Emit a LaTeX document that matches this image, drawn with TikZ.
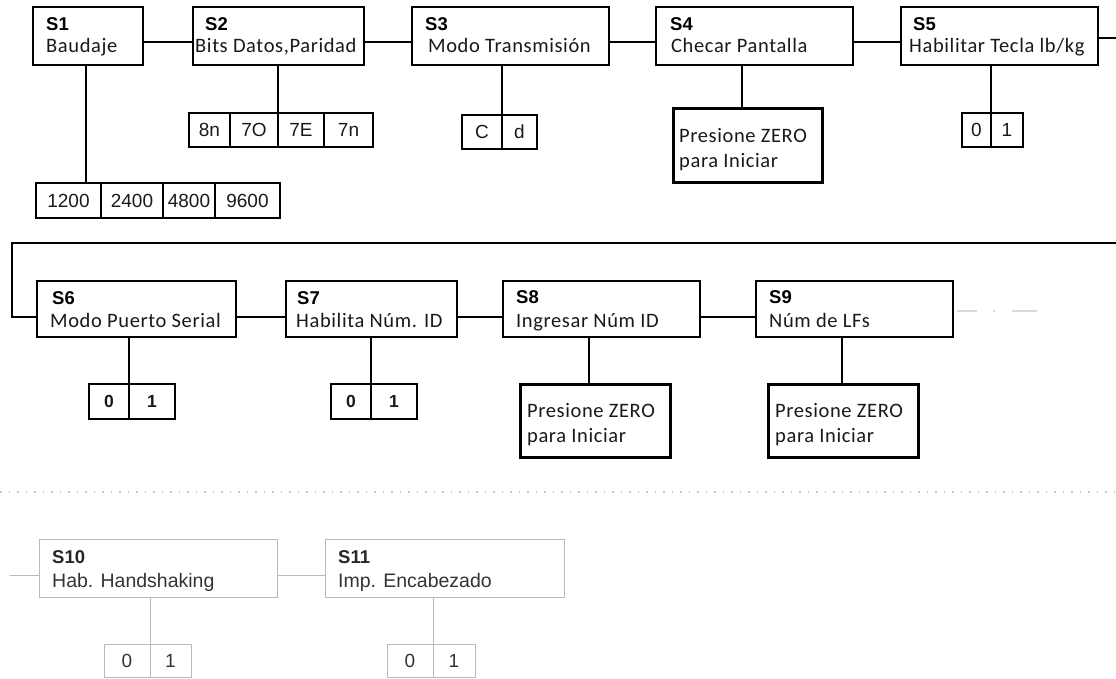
\documentclass[tikz,border=0pt]{standalone}
\usepackage{fontspec}
\setmainfont{Carlito}
\newfontfamily\calib[LetterSpace=3]{Carlito}
\newfontfamily\arial{Liberation Sans}
\usetikzlibrary{calc,fit}
\tikzset{
  sbox/.style={draw=black, line width=1.6pt, inner sep=0pt, outer sep=0pt},
  pbox/.style={draw=black, line width=3pt, inner sep=0pt, outer sep=0pt},
  gbox/.style={draw=gray!55, line width=1pt, inner sep=0pt, outer sep=0pt},
  obox/.style={sbox, line width=1.4pt},
  otxt/.style={inner sep=0pt, anchor=center, font=\arial\fontsize{19}{21}\selectfont, text=black!90},
  obtxt/.style={otxt, font=\arial\bfseries\fontsize{17.5}{20}\selectfont},
  gotxt/.style={otxt, text=black!80},
  lab/.style={anchor=base west, inner sep=0pt, font=\arial\bfseries\fontsize{18.5}{20}\selectfont},
  txt/.style={anchor=base west, inner sep=0pt, font=\calib\fontsize{20.5}{24}\selectfont, text=black!90},
  glab/.style={lab, text=black!85},
  gtxt/.style={anchor=base west, inner sep=0pt, font=\arial\fontsize{19.5}{22}\selectfont, text=black!80},
  conn/.style={draw=black, line width=1.7pt},
  gconn/.style={draw=gray!55, line width=1pt},
  faint/.style={draw=gray!30, line width=1.2pt},
  dotline/.style={draw=gray!45, line width=1.2pt, dash pattern=on 1.5pt off 7pt},
}
\begin{document}
\begin{tikzpicture}[x=1pt,y=-1pt]
\useasboundingbox (0,0) rectangle (1116,679);

% ---------------- top row ----------------
\node[sbox, fit={(33,7) (143,65)}] (s1) {};
\node[sbox, fit={(193,7) (364,65)}] (s2) {};
\node[sbox, fit={(412,7) (609,65)}] (s3) {};
\node[sbox, fit={(656,7) (853,65)}] (s4) {};
\node[sbox, fit={(901,7) (1098,65)}] (s5) {};

\node[lab] (s1l) at ($(s1.north west)+(13,24)$) {S1};
\node[txt] (s1t) at ($(s1.north west)+(13,46)$) {Baudaje};
\node[lab] (s2l) at ($(s2.north west)+(12,24)$) {S2};
\node[txt] (s2t) at ($(s2.north west)+(2,46)$) {Bits Datos,Paridad};
\node[lab] (s3l) at ($(s3.north west)+(13,24)$) {S3};
\node[txt] (s3t) at ($(s3.north west)+(16,46)$) {Modo Transmisión};
\node[lab] (s4l) at ($(s4.north west)+(14,24)$) {S4};
\node[txt] (s4t) at ($(s4.north west)+(15,46)$) {Checar Pantalla};
\node[lab] (s5l) at ($(s5.north west)+(12,24)$) {S5};
\node[txt] (s5t) at ($(s5.north west)+(8,46)$) {Habilitar Tecla lb/kg};

\draw[conn] ([yshift=-6pt]s1.east) -- ([yshift=-6pt]s2.west);
\draw[conn] ([yshift=-6pt]s2.east) -- ([yshift=-6pt]s3.west);
\draw[conn] ([yshift=-6pt]s3.east) -- ([yshift=-6pt]s4.west);
\draw[conn] ([yshift=-6pt]s4.east) -- ([yshift=-6pt]s5.west);
\coordinate (e5) at (1116,38);
\draw[conn] ([yshift=-2pt]s5.east) -- (e5);

% S1 options
\node[obox, fit={(36,183) (101,218)}] (b1) {};
\node[obox, fit={(101,183) (163,218)}] (b2) {};
\node[obox, fit={(163,183) (215,218)}] (b3) {};
\node[obox, fit={(215,183) (280,218)}] (b4) {};
\node[otxt] at (b1.center) {1200};
\node[otxt] at (b2.center) {2400};
\node[otxt] at (b3.center) {4800};
\node[otxt] at (b4.center) {9600};
\draw[conn] ([xshift=53pt]s1.south west) -- ([xshift=50pt]b1.north west);

% S2 options
\node[obox, fit={(189,113) (230,147)}] (c1) {};
\node[obox, fit={(230,113) (278,147)}] (c2) {};
\node[obox, fit={(278,113) (324,147)}] (c3) {};
\node[obox, fit={(324,113) (373,147)}] (c4) {};
\node[otxt] at (c1.center) {8n};
\node[otxt] at (c2.center) {7O};
\node[otxt] at (c3.center) {7E};
\node[otxt] at (c4.center) {7n};
\draw[conn] ([xshift=85pt]s2.south west) -- (c2.north east);

% S3 options
\node[obox, fit={(462,115) (502,149)}] (d1) {};
\node[obox, fit={(502,115) (537,149)}] (d2) {};
\node[otxt] at (d1.center) {C};
\node[otxt] at (d2.center) {d};
\draw[conn] ([xshift=90pt]s3.south west) -- (d1.north east);

% S4
\node[pbox, fit={(673,109) (822,183)}] (p4) {};
\node[txt] (p4a) at ($(p4.north west)+(6,34)$) {Presione ZERO};
\node[txt] (p4b) at ($(p4.north west)+(6,59)$) {para Iniciar};
\draw[conn] ([xshift=86pt]s4.south west) -- ([xshift=69pt]p4.north west);

% S5 options
\node[obox, fit={(962,113) (991,147)}] (e1) {};
\node[obox, fit={(991,113) (1023,147)}] (e2) {};
\node[otxt] at (e1.center) {0};
\node[otxt] at (e2.center) {1};
\draw[conn] ([xshift=90pt]s5.south west) -- (e1.north east);

% ---------------- middle row ----------------
\node[sbox, fit={(37,281) (236,337)}] (s6) {};
\node[sbox, fit={(286,281) (457,337)}] (s7) {};
\node[sbox, fit={(503,281) (700,337)}] (s8) {};
\node[sbox, fit={(756,281) (953,337)}] (s9) {};

\node[lab] (s6l) at ($(s6.north west)+(15,23)$) {S6};
\node[txt] (s6t) at ($(s6.north west)+(13,46)$) {Modo Puerto Serial};
\node[lab] (s7l) at ($(s7.north west)+(11,23)$) {S7};
\node[txt] (s7t) at ($(s7.north west)+(10,46)$) {Habilita Núm. ID};
\node[lab] (s8l) at ($(s8.north west)+(13,22)$) {S8};
\node[txt] (s8t) at ($(s8.north west)+(13,46)$) {Ingresar Núm ID};
\node[lab] (s9l) at ($(s9.north west)+(13,22)$) {S9};
\node[txt] (s9t) at ($(s9.north west)+(13,46)$) {Núm de LFs};

\coordinate (m0) at (1116,243);
\coordinate (m1) at (12,243);
\draw[conn] (m0) -- (m1) |- ([yshift=-8pt]s6.west);
\draw[conn] ([yshift=-8pt]s6.east) -- ([yshift=-8pt]s7.west);
\draw[conn] ([yshift=-8pt]s7.east) -- ([yshift=-8pt]s8.west);
\draw[conn] ([yshift=-8pt]s8.east) -- ([yshift=-8pt]s9.west);
\draw[faint] ([xshift=4pt,yshift=-2pt]s9.east) -- ++(20,0);
\draw[faint] ([xshift=40pt,yshift=-2pt]s9.east) -- ++(2,0);
\draw[faint] ([xshift=59pt,yshift=-2pt]s9.east) -- ++(25,0);

% S6 options
\node[obox, fit={(89,384) (129,419)}] (f1) {};
\node[obox, fit={(129,384) (175,419)}] (f2) {};
\node[obtxt] at (f1.center) {0};
\node[obtxt] at (f2.center) {1};
\draw[conn] ([xshift=92pt]s6.south west) -- (f1.north east);

% S7 options
\node[obox, fit={(331,384) (371,419)}] (g1) {};
\node[obox, fit={(371,384) (417,419)}] (g2) {};
\node[obtxt] at (g1.center) {0};
\node[obtxt] at (g2.center) {1};
\draw[conn] ([xshift=85pt]s7.south west) -- (g1.north east);

% S8
\node[pbox, fit={(520,384) (670,457)}] (p8) {};
\node[txt] (p8a) at ($(p8.north west)+(7,33)$) {Presione ZERO};
\node[txt] (p8b) at ($(p8.north west)+(7,58)$) {para Iniciar};
\draw[conn] ([xshift=86pt]s8.south west) -- ([xshift=69pt]p8.north west);

% S9
\node[pbox, fit={(768,384) (918,457)}] (p9) {};
\node[txt] (p9a) at ($(p9.north west)+(7,33)$) {Presione ZERO};
\node[txt] (p9b) at ($(p9.north west)+(7,58)$) {para Iniciar};
\draw[conn] ([xshift=86pt]s9.south west) -- ([xshift=74pt]p9.north west);

% dotted separator
\coordinate (dl) at (0,492);
\coordinate (dr) at (1116,492);
\draw[dotline] (dl) -- (dr);

% ---------------- bottom row ----------------
\node[gbox, fit={(39,539) (277,597)}] (s10) {};
\node[gbox, fit={(325,539) (564,597)}] (s11) {};
\node[glab] (s10l) at ($(s10.north west)+(13,24)$) {S10};
\node[gtxt] (s10t) at ($(s10.north west)+(13,48)$) {Hab. Handshaking};
\node[glab] (s11l) at ($(s11.north west)+(13,24)$) {S11};
\node[gtxt] (s11t) at ($(s11.north west)+(13,48)$) {Imp. Encabezado};

\coordinate (bl) at (10,575);
\draw[gconn] (bl) -- ([yshift=-7pt]s10.west);
\draw[gconn] ([yshift=-7pt]s10.east) -- ([yshift=-7pt]s11.west);

\node[gbox, fit={(104,644) (150,677)}] (h1) {};
\node[gbox, fit={(150,644) (191,677)}] (h2) {};
\node[gotxt] at (h1.center) {0};
\node[gotxt] at (h2.center) {1};
\draw[gconn] ([xshift=111pt]s10.south west) -- (h1.north east);

\node[gbox, fit={(387,644) (433,677)}] (i1) {};
\node[gbox, fit={(433,644) (475,677)}] (i2) {};
\node[gotxt] at (i1.center) {0};
\node[gotxt] at (i2.center) {1};
\draw[gconn] ([xshift=108pt]s11.south west) -- (i1.north east);
\end{tikzpicture}
\end{document}
